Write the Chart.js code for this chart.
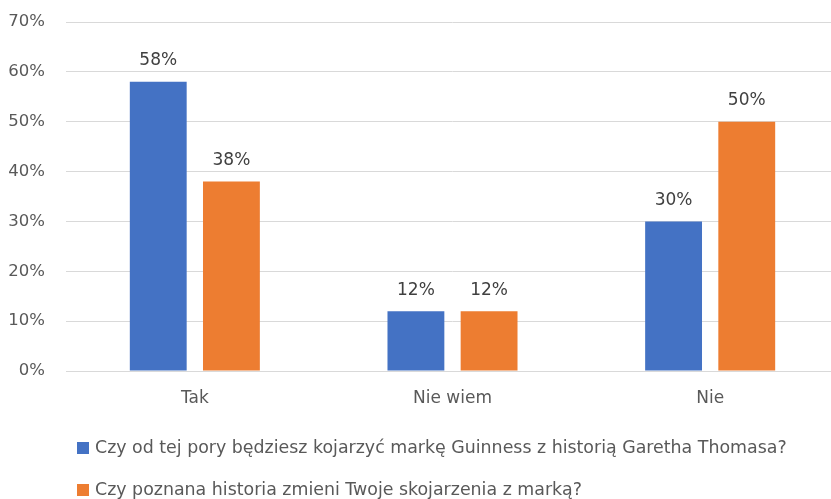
<!DOCTYPE html>
<html>
<head>
<meta charset="utf-8">
<script src="https://cdn.jsdelivr.net/npm/chart.js@4.4.1/dist/chart.umd.min.js"></script>
<style>
  html, body { margin: 0; padding: 0; background: #fff; overflow: hidden; width: 831px; height: 499px; }
  #wrap { position: absolute; left: 0; top: 0; width: 842px; height: 499px; }
  .legend { position: absolute; left: 77px; font-family: "DejaVu Sans", sans-serif; font-size: 17.4px; color: #595959; white-space: nowrap; }
  .legend span.box { display: inline-block; width: 12px; height: 12px; margin-right: 6px; vertical-align: -1px; }
</style>
</head>
<body>
<div id="wrap"><canvas id="c"></canvas></div>
<div class="legend" id="lg1" style="top:437px"></div>
<div class="legend" id="lg2" style="top:479px"></div>
<script>
const categories = ["Tak", "Nie wiem", "Nie"];
const seriesNames = [
  "Czy od tej pory będziesz kojarzyć markę Guinness z historią Garetha Thomasa?",
  "Czy poznana historia zmieni Twoje skojarzenia z marką?"
];
const series1 = [58, 12, 30];
const series2 = [38, 12, 50];
const yTicks = [0, 10, 20, 30, 40, 50, 60, 70];
const colors = ["#4472C4", "#ED7D31"];

const FONT = "DejaVu Sans";
const TEXT = "#595959";

const valueLabels = {
  id: "valueLabels",
  afterDatasetsDraw(chart) {
    const ctx = chart.ctx;
    ctx.save();
    ctx.font = "17px '" + FONT + "'";
    ctx.fillStyle = "#404040";
    ctx.textAlign = "center";
    ctx.textBaseline = "alphabetic";
    chart.data.datasets.forEach((ds, i) => {
      chart.getDatasetMeta(i).data.forEach((bar, j) => {
        ctx.fillText(ds.data[j] + "%", bar.x, bar.y - 16.5);
      });
    });
    ctx.restore();
  }
};

new Chart(document.getElementById("c"), {
  type: "bar",
  data: {
    labels: categories,
    datasets: [
      { label: seriesNames[0], data: series1, backgroundColor: colors[0], barPercentage: 0.777, categoryPercentage: 0.568 },
      { label: seriesNames[1], data: series2, backgroundColor: colors[1], barPercentage: 0.777, categoryPercentage: 0.568 }
    ]
  },
  options: {
    responsive: true,
    maintainAspectRatio: false,
    animation: false,
    layout: { padding: { top: 22, left: 0, right: 3, bottom: 78 } },
    plugins: { legend: { display: false }, tooltip: { enabled: false } },
    scales: {
      x: {
        grid: { display: false, drawTicks: false },
        border: { display: true, color: "#d9d9d9", width: 1 },
        ticks: { color: TEXT, font: { family: FONT, size: 17 }, padding: 17 },
        afterFit(scale) { scale.height = 50; scale.paddingLeft = 0; scale.paddingRight = 0; }
      },
      y: {
        min: 0, max: 70,
        afterBuildTicks(scale) { scale.ticks = yTicks.map(v => ({ value: v })); },
        grid: { color: "#d9d9d9", lineWidth: 1, drawTicks: false },
        border: { display: false },
        ticks: { color: TEXT, font: { family: FONT, size: 16.5 }, padding: 21, callback: v => v + "%" },
        afterFit(scale) { scale.width = 66; scale.paddingTop = 0; scale.paddingBottom = 0; }
      }
    }
  },
  plugins: [valueLabels]
});

[["lg1", 0], ["lg2", 1]].forEach(([id, i]) => {
  const el = document.getElementById(id);
  const box = document.createElement("span");
  box.className = "box";
  box.style.background = colors[i];
  el.appendChild(box);
  el.appendChild(document.createTextNode(seriesNames[i]));
});
</script>
</body>
</html>
